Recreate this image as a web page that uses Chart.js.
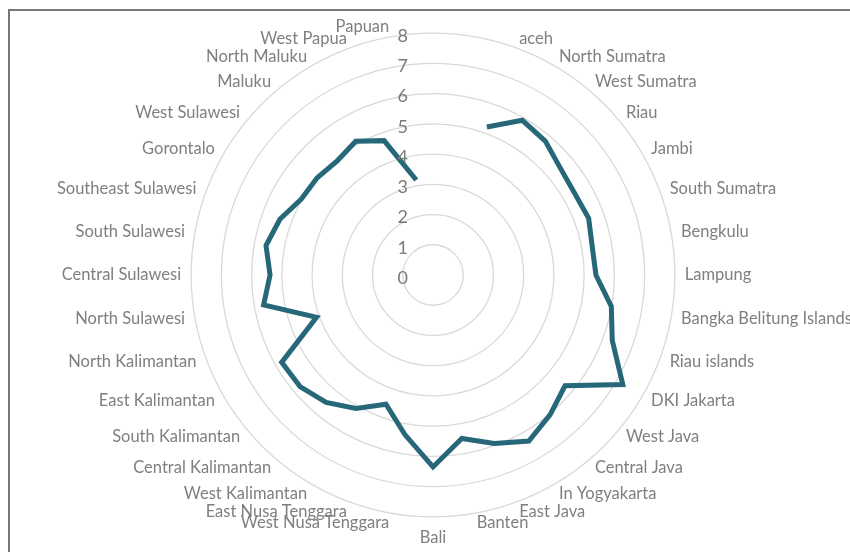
<!DOCTYPE html>
<html>
<head>
<meta charset="utf-8">
<script src="https://cdn.jsdelivr.net/npm/chart.js@4.4.0/dist/chart.umd.min.js"></script>
<style>
html, body { margin: 0; padding: 0; width: 850px; height: 552px; overflow: hidden; background: #fff; }
#frame { position: absolute; left: 8px; top: 9px; width: 900px; height: 600px; border: 2px solid #777; }
#mycanvas { position: absolute; left: -17px; top: 0; }
</style>
</head>
<body>
<div id="frame"></div>
<canvas id="mycanvas" width="900" height="552"></canvas>
<script>
// first two spokes are empty in the original sheet (line starts at aceh)
var provinces = ['', '', 'aceh', 'North Sumatra', 'West Sumatra', 'Riau', 'Jambi', 'South Sumatra',
	'Bengkulu', 'Lampung', 'Bangka Belitung Islands', 'Riau islands', 'DKI Jakarta', 'West Java',
	'Central Java', 'In Yogyakarta', 'East Java', 'Banten', 'Bali', 'West Nusa Tenggara',
	'East Nusa Tenggara', 'West Kalimantan', 'Central Kalimantan', 'South Kalimantan',
	'East Kalimantan', 'North Kalimantan', 'North Sulawesi', 'Central Sulawesi', 'South Sulawesi',
	'Southeast Sulawesi', 'Gorontalo', 'West Sulawesi', 'Maluku', 'North Maluku', 'West Papua', 'Papuan'];

var scores = [null, null, 5.21, 5.91, 5.78, 5.50, 5.41, 5.48,
	5.35, 5.39, 5.99, 6.31, 7.25, 5.70,
	6.03, 6.34, 5.93, 5.49, 6.35, 5.36,
	4.55, 5.10, 5.50, 5.74,
	5.78, 4.10, 5.69, 5.39, 5.61,
	5.39, 5.03, 5.00, 4.93, 5.11, 4.73, 3.19];

var tickValues = [0, 1, 2, 3, 4, 5, 6, 7, 8];

// value labels sit left of the vertical axis, like the original
var tickLabels = {
	id: 'tickLabels',
	afterDatasetsDraw: function(chart) {
		var scale = chart.scales.r;
		var ctx = chart.ctx;
		ctx.save();
		ctx.font = '18px Lato';
		ctx.fillStyle = '#7a7a7a';
		ctx.textAlign = 'right';
		ctx.textBaseline = 'middle';
		for (var i in tickValues) {
			var d = scale.getDistanceFromCenterForValue(tickValues[i]);
			ctx.fillText(String(tickValues[i]), scale.xCenter - 25, scale.yCenter - d + 3);
		}
		ctx.restore();
	}
};

var ctx = document.getElementById('mycanvas');

var radarChart = new Chart(ctx, {
	type: 'radar',
	data: {
		labels: provinces,
		datasets: [
			{
				label: 'Score',
				data: scores,
				borderColor: '#27677a',
				backgroundColor: 'transparent',
				borderWidth: 5,
				fill: false,
				pointRadius: 0,
				pointHoverRadius: 0,
				spanGaps: false,
				tension: 0
			}
		]
	},
	options: {
		responsive: false,
		animation: false,
		layout: { padding: { top: 18, bottom: 8, left: 0, right: 0 } },
		plugins: {
			legend: { display: false },
			tooltip: { enabled: false }
		},
		scales: {
			r: {
				min: 0,
				max: 8,
				ticks: { display: false, stepSize: 1 },
				angleLines: { display: false },
				grid: { circular: true, color: '#d9d9d9', lineWidth: 1.3 },
				pointLabels: {
					color: '#7f7f7f',
					font: { family: 'Lato', size: 16.5, lineHeight: 0.01 },
					padding: function(c) { return c.index === 18 ? 21 : 10; }
				}
			}
		}
	},
	plugins: [tickLabels]
});
</script>
</body>
</html>
